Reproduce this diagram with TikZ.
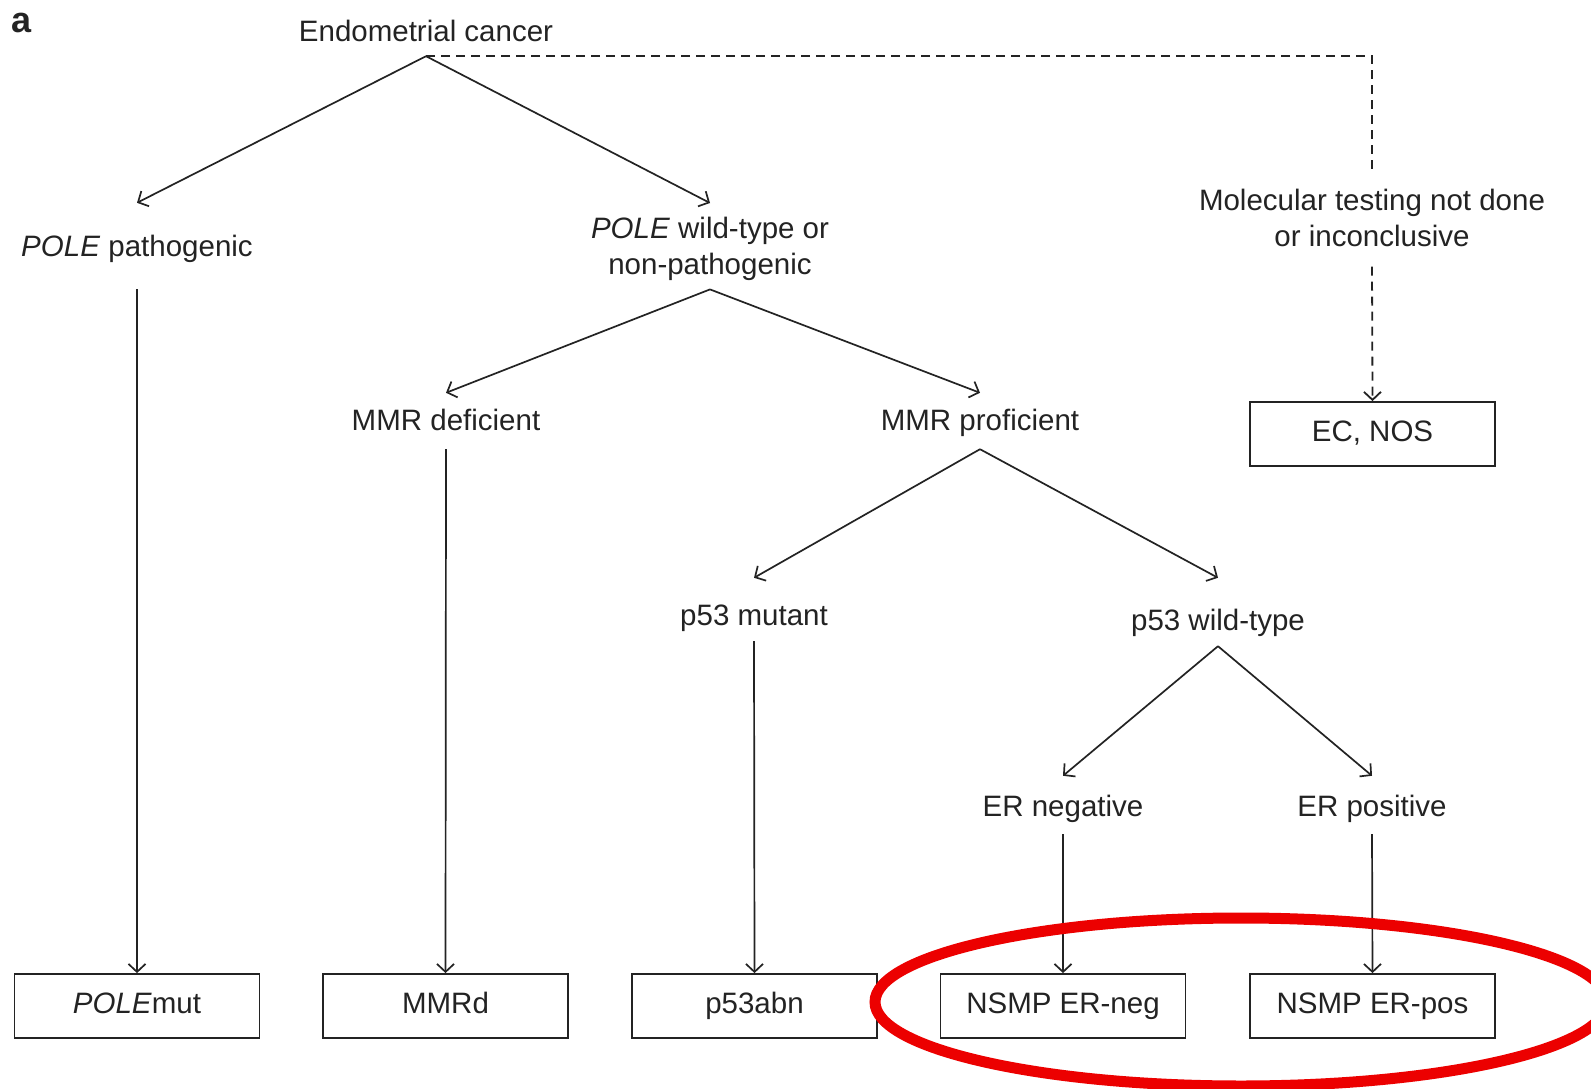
\documentclass[tikz,border=0pt]{standalone}
\usepackage{fontspec}
\setmainfont{Liberation Sans}
\usetikzlibrary{arrows.meta}
\definecolor{ann}{RGB}{236,0,0}
\definecolor{ink}{RGB}{35,35,35}
\begin{document}
\begin{tikzpicture}[x=1pt,y=-1pt,
  lbl/.style={inner sep=0pt, text height=21pt, text depth=6pt, anchor=base, font=\fontsize{29.5}{36}\selectfont, text=ink},
  lbltwo/.style={inner sep=0pt, align=center, anchor=north, font=\fontsize{29.5}{35.5}\selectfont, text=ink},
  box/.style={draw=ink, line width=1.8pt, minimum width=245pt, minimum height=64pt, inner sep=0pt, font=\fontsize{29.5}{36}\selectfont, text height=21pt, text depth=6pt, text=ink},
  arr/.style={draw=ink, line width=1.7pt, -{Straight Barb[length=8pt,width=17pt]}},
  dsh/.style={draw=ink, line width=1.8pt, dash pattern=on 9pt off 6pt},
]
\useasboundingbox (0,0) rectangle (1591,1089);
\fill[white] (0,0) rectangle (1591,1089);

\node[font=\fontsize{36}{40}\selectfont\bfseries, inner sep=0pt, anchor=base, text=ink] (lbla) at (22,33) {a};

\node[lbl] (ec) at (426,42) {Endometrial cancer};
\node[lbl] (polep) at (137,256) {\textit{POLE} pathogenic};
\node[lbltwo] (polewt) at (710,217) {\textit{POLE} wild-type or\\non-pathogenic};
\node[lbltwo] (mol) at (1372,189) {Molecular testing not done\\or inconclusive};
\node[lbl] (mmrd) at (446,430) {MMR deficient};
\node[lbl] (mmrp) at (980,430) {MMR proficient};
\node[lbl] (p53m) at (754,625) {p53 mutant};
\node[lbl] (p53w) at (1218,630) {p53 wild-type};
\node[lbl] (ern) at (1063,816) {ER negative};
\node[lbl] (erp) at (1372,816) {ER positive};

\node[box] (ecnos) at (1372.5,434) {EC, NOS};
\node[box] (polemut) at (137,1006) {\textit{POLE}mut};
\node[box] (mmrdb) at (445.5,1006) {MMRd};
\node[box] (p53abn) at (754.5,1006) {p53abn};
\node[box] (nsmpn) at (1063,1006) {NSMP ER-neg};
\node[box] (nsmpp) at (1372.5,1006) {NSMP ER-pos};

% connectors
\coordinate (ecA) at ([yshift=-8pt]ec.south);
\draw[arr] (ecA) -- ([yshift=32pt]polep.north);
\draw[arr] (ecA) -- ([yshift=14pt]polewt.north);
\draw[dsh] (ecA) -| ([yshift=16pt]mol.north);
\draw[dsh, -{Straight Barb[length=8pt,width=17pt]}] ([yshift=-20pt]mol.south) -- (ecnos.north);

\draw[arr] ([yshift=-27pt]polep.south) -- (polemut.north);

\coordinate (wtA) at ([yshift=-9pt]polewt.south);
\draw[arr] (wtA) -- ([yshift=16pt]mmrd.north);
\draw[arr] (wtA) -- ([yshift=16pt]mmrp.north);
\draw[arr] ([yshift=-13pt]mmrd.south) -- (mmrdb.north);

\coordinate (mpA) at ([yshift=-13pt]mmrp.south);
\draw[arr] (mpA) -- ([yshift=26pt]p53m.north);
\draw[arr] (mpA) -- ([yshift=31pt]p53w.north);
\draw[arr] ([yshift=-10pt]p53m.south) -- (p53abn.north);

\coordinate (pwA) at ([yshift=-10pt]p53w.south);
\draw[arr] (pwA) -- ([yshift=19pt]ern.north);
\draw[arr] (pwA) -- ([yshift=19pt]erp.north);
\draw[arr] ([yshift=-12pt]ern.south) -- (nsmpn.north);
\draw[arr] ([yshift=-12pt]erp.south) -- (nsmpp.north);

% annotation
\draw[ann, line width=11pt] (1241,1002) ellipse [x radius=366pt, y radius=84pt];
\end{tikzpicture}
\end{document}
